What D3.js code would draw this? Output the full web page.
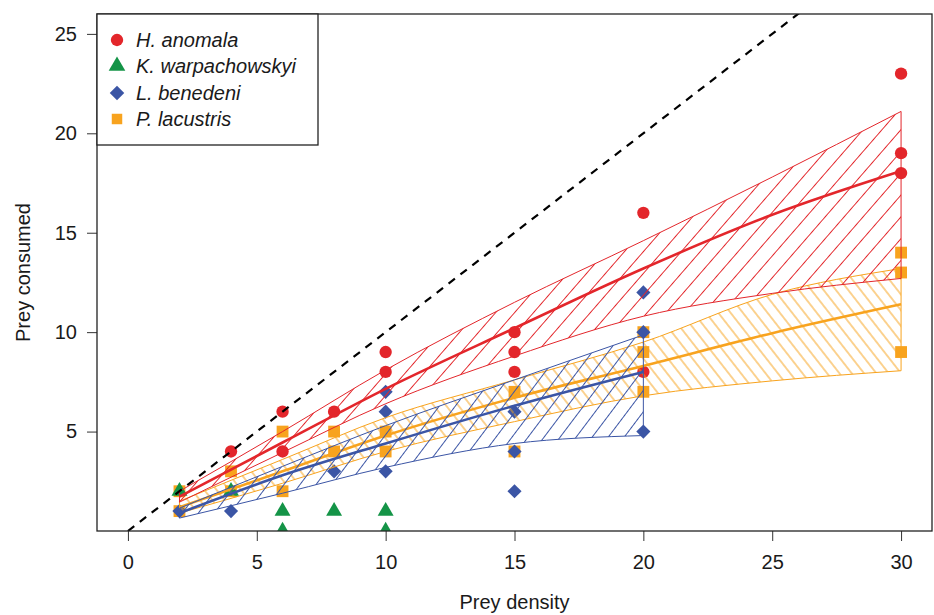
<!DOCTYPE html>
<html>
<head>
<meta charset="utf-8">
<script src="https://cdn.jsdelivr.net/npm/d3@7"></script>
<style>
  body { margin: 0; background: #fff; }
  svg { display: block; font-family: "Liberation Sans", Arial, sans-serif; }
</style>
</head>
<body>
<div id="chart"></div>
<script>
// Data
const speciesNames = ["H. anomala", "K. warpachowskyi", "L. benedeni", "P. lacustris"];
const speciesColors = ["#e3262b", "#149447", "#3b55a5", "#f8a31e"];

// observed points [prey density, prey consumed]
const hAnomala = [[4, 4], [6, 6], [6, 4], [8, 6], [10, 9], [10, 8], [15, 10], [15, 9], [15, 8],
  [20, 16], [20, 8], [30, 23], [30, 19], [30, 18]];
const kWarpachowskyi = [[2, 2], [4, 2], [6, 1], [6, 0], [8, 1], [10, 1], [10, 0]];
const lBenedeni = [[2, 1], [4, 1], [8, 3], [10, 7], [10, 6], [10, 3], [15, 6], [15, 4], [15, 2],
  [20, 12], [20, 10], [20, 5]];
const pLacustris = [[2, 2], [2, 1], [4, 3], [4, 2], [6, 5], [6, 2], [8, 5], [8, 4], [10, 5], [10, 4],
  [15, 7], [15, 4], [20, 10], [20, 9], [20, 7], [30, 14], [30, 13], [30, 9]];

// fitted curves and confidence bands
const fitX30 = [2, 6, 10, 15, 20, 25, 30];
const fitX20 = [2, 6, 10, 15, 20];
const redFit = [1.73, 4.45, 7.15, 10.2, 13.2, 15.9, 18.1];
const redUpper = [2.0, 5.0, 8.1, 11.5, 14.6, 17.8, 21.1];
const redLower = [1.45, 3.95, 6.4, 8.8, 10.8, 11.95, 12.7];
const blueFit = [0.9, 2.8, 4.4, 6.3, 8.0];
const blueUpper = [1.15, 3.25, 5.3, 7.6, 9.86];
const blueLower = [0.65, 1.9, 3.2, 4.4, 4.8];
const orangeFit = [1.2, 3.0, 4.8, 6.7, 8.3, 9.95, 11.4];
const orangeUpper = [1.5, 3.6, 5.7, 7.6, 9.5, 11.9, 13.2];
const orangeLower = [0.9, 2.4, 4.0, 5.5, 6.8, 7.55, 8.06];

const xTicks = [0, 5, 10, 15, 20, 25, 30];
const yTicks = [5, 10, 15, 20, 25];

// Dimensions
const dimensions = { width: 934, height: 615, left: 97, right: 932, top: 14, bottom: 531 };

const svg = d3.select("#chart").append("svg")
  .attr("width", dimensions.width)
  .attr("height", dimensions.height);

const xScale = d3.scaleLinear().domain([-1.2, 31.2]).range([dimensions.left, dimensions.right]);
const yScale = d3.scaleLinear().domain([0, 26]).range([dimensions.bottom, dimensions.top]);

const defs = svg.append("defs");
defs.append("clipPath").attr("id", "plotClip").append("rect")
  .attr("x", dimensions.left).attr("y", dimensions.top)
  .attr("width", dimensions.right - dimensions.left)
  .attr("height", dimensions.bottom - dimensions.top);

function hatch(id, color, angle, gap) {
  const p = defs.append("pattern").attr("id", id)
    .attr("patternUnits", "userSpaceOnUse")
    .attr("width", 40).attr("height", gap)
    .attr("patternTransform", `rotate(${angle})`);
  p.append("line").attr("x1", 0).attr("x2", 40).attr("y1", gap / 2).attr("y2", gap / 2)
    .attr("stroke", color).attr("stroke-width", 1);
}
hatch("hRed", speciesColors[0], -49, 14.3);
hatch("hBlue", speciesColors[2], -53, 12.8);
hatch("hOrange", speciesColors[3], 52, 9.7);

const plot = svg.append("g").attr("clip-path", "url(#plotClip)");

// Points (diamond = square turned 45 degrees)
const symbols = [d3.symbolCircle, d3.symbolTriangle, d3.symbolSquare, d3.symbolSquare];
const symbolSizes = [120, 110, 100, 140];
const symbolTurn = [0, 0, 45, 0];
const pointSets = [hAnomala, kWarpachowskyi, lBenedeni, pLacustris];
[3, 0, 1, 2].forEach((i) => {
  plot.append("g").selectAll("path").data(pointSets[i]).join("path")
    .attr("d", d3.symbol(symbols[i], symbolSizes[i]))
    .attr("transform", (d) => `translate(${xScale(d[0])},${yScale(d[1])}) rotate(${symbolTurn[i]})`)
    .attr("fill", speciesColors[i]);
});

// Bands
const bandLine = d3.line().x((d) => xScale(d[0])).y((d) => yScale(d[1])).curve(d3.curveMonotoneX);
function band(xs, upper, lower, color, patternId, fit) {
  const up = xs.map((x, i) => [x, upper[i]]);
  const lo = xs.map((x, i) => [x, lower[i]]).reverse();
  const path = bandLine(up) + "L" + bandLine(lo).slice(1) + "Z";
  plot.append("path").attr("d", path)
    .attr("fill", `url(#${patternId})`)
    .attr("stroke", color).attr("stroke-width", 1);
  plot.append("path").datum(xs.map((x, i) => [x, fit[i]]))
    .attr("d", bandLine)
    .attr("fill", "none").attr("stroke", color).attr("stroke-width", 2.6);
}
band(fitX30, orangeUpper, orangeLower, speciesColors[3], "hOrange", orangeFit);
band(fitX20, blueUpper, blueLower, speciesColors[2], "hBlue", blueFit);
band(fitX30, redUpper, redLower, speciesColors[0], "hRed", redFit);

// 1:1 line
plot.append("line")
  .attr("x1", xScale(0)).attr("y1", yScale(0))
  .attr("x2", xScale(30)).attr("y2", yScale(30))
  .attr("stroke", "#000").attr("stroke-width", 2.2).attr("stroke-dasharray", "8,7");

// Axes
const xAxis = d3.axisBottom(xScale).tickValues(xTicks).tickSize(10).tickPadding(14).tickSizeOuter(0);
const yAxis = d3.axisLeft(yScale).tickValues(yTicks).tickSize(10).tickPadding(10).tickSizeOuter(0);

const xAxisG = svg.append("g").attr("transform", `translate(0,${dimensions.bottom})`).call(xAxis);
const yAxisG = svg.append("g").attr("transform", `translate(${dimensions.left},0)`).call(yAxis);
[xAxisG, yAxisG].forEach((g) => {
  g.select(".domain").remove();
  g.selectAll("line").attr("stroke", "#333");
  g.selectAll("text").attr("font-size", 20).attr("fill", "#1a1a1a")
    .attr("font-family", "Liberation Sans, Arial, sans-serif");
});

svg.append("rect")
  .attr("x", dimensions.left).attr("y", dimensions.top)
  .attr("width", dimensions.right - dimensions.left)
  .attr("height", dimensions.bottom - dimensions.top)
  .attr("fill", "none").attr("stroke", "#222").attr("stroke-width", 1.3);

svg.append("text")
  .attr("x", (dimensions.left + dimensions.right) / 2).attr("y", 609)
  .attr("text-anchor", "middle").attr("font-size", 20).attr("fill", "#1a1a1a")
  .text("Prey density");
svg.append("text")
  .attr("transform", `translate(30,${(dimensions.top + dimensions.bottom) / 2}) rotate(-90)`)
  .attr("text-anchor", "middle").attr("font-size", 20).attr("fill", "#1a1a1a")
  .text("Prey consumed");

// Legend
const legend = svg.append("g");
legend.append("rect")
  .attr("x", dimensions.left).attr("y", dimensions.top)
  .attr("width", 221).attr("height", 131)
  .attr("fill", "#fff").attr("stroke", "#222").attr("stroke-width", 1.3);
const legendY = [40, 66, 93, 119];
speciesNames.forEach((name, i) => {
  legend.append("path")
    .attr("d", d3.symbol(symbols[i], [120, 120, 105, 110][i]))
    .attr("transform", `translate(117,${legendY[i]}) rotate(${symbolTurn[i]})`)
    .attr("fill", speciesColors[i]);
  legend.append("text")
    .attr("x", 136).attr("y", legendY[i]).attr("dy", "0.35em")
    .attr("font-size", 20).attr("font-style", "italic").attr("fill", "#1a1a1a")
    .text(name);
});
</script>
</body>
</html>
